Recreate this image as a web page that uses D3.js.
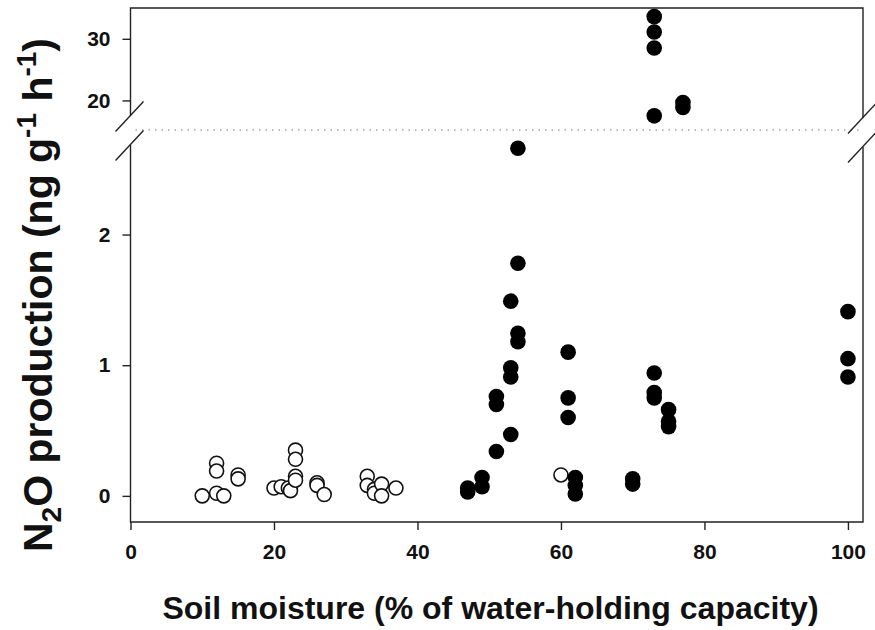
<!DOCTYPE html>
<html>
<head>
<meta charset="utf-8">
<script src="https://cdn.jsdelivr.net/npm/d3@7"></script>
<style>
    body { margin: 0; background: #fff; }
    text { font-family: "Liberation Sans", Arial, sans-serif; font-weight: bold; fill: #111; }
</style>
</head>
<body>
<svg id="chart" width="875" height="630"></svg>
<script>
// open circles (dry soils)
const dryMoisture = [10, 12, 12, 12, 13, 15, 15, 20, 21, 22, 22.3, 23, 23, 23, 23, 26, 26, 27, 33, 33, 34, 34, 35, 35, 37, 60];
const dryN2O      = [0.0, 0.25, 0.19, 0.02, 0.0, 0.16, 0.13, 0.06, 0.07, 0.06, 0.04, 0.35, 0.28, 0.15, 0.12, 0.10, 0.08, 0.01, 0.15, 0.08, 0.05, 0.02, 0.09, 0.0, 0.06, 0.16];

// filled circles (wet soils)
const wetMoisture = [47, 47, 49, 49, 51, 51, 51, 53, 53, 53, 53, 54, 54, 54, 54, 61, 61, 61, 62, 62, 62, 70, 70, 73, 73, 73, 75, 75, 75, 100, 100, 100, 73, 73, 73, 73, 77, 77];
const wetN2O      = [0.06, 0.03, 0.14, 0.07, 0.76, 0.70, 0.34, 1.49, 0.98, 0.91, 0.47, 2.66, 1.78, 1.245, 1.18, 1.10, 0.75, 0.60, 0.14, 0.08, 0.015, 0.13, 0.09, 0.94, 0.79, 0.75, 0.66, 0.57, 0.53, 1.41, 1.05, 0.91, 33.6, 31.1, 28.5, 17.5, 19.65, 18.85];

const xTicks = [0, 20, 40, 60, 80, 100];
const lowTicks = [0, 1, 2];
const highTicks = [20, 30];

const svg = d3.select('#chart');

const plotLeft = 130.5, plotRight = 863, plotTop = 8, plotBottom = 522, breakY = 130;

const x = d3.scaleLinear().domain([0, 102.1]).range([plotLeft, plotRight]);
const yLow = d3.scaleLinear().domain([-0.2, 2.8]).range([plotBottom, breakY]);
const yHigh = d3.scaleLinear().domain([15.2, 35]).range([breakY, plotTop]);

function yPos(v) {
    return v > 2.8 ? yHigh(v) : yLow(v);
}

// dotted break line
svg.append('line')
    .attr('x1', plotLeft + 5).attr('x2', plotRight)
    .attr('y1', breakY).attr('y2', breakY)
    .attr('stroke', '#777')
    .attr('stroke-width', 1.2)
    .attr('stroke-dasharray', '1.5,5');

const frame = svg.append('g')
    .attr('stroke', '#222')
    .attr('stroke-width', 1.4)
    .attr('fill', 'none');

// frame pieces, broken at the slashes
frame.append('path').attr('d', `M${plotLeft},116 V${plotTop} H${plotRight} V118`);
frame.append('path').attr('d', `M${plotLeft},145 V${plotBottom} H${plotRight} V147`);

// break slashes
[[plotLeft, 116], [plotLeft, 145], [plotRight, 118], [plotRight, 147]].forEach(function (p) {
    frame.append('line')
        .attr('x1', p[0] - 15).attr('y1', p[1] + 15.5)
        .attr('x2', p[0] + 13).attr('y2', p[1] - 14.5);
});

// axes
const fmt = d3.format('d');

const xAxis = svg.append('g')
    .attr('transform', `translate(0,${plotBottom})`)
    .call(d3.axisBottom(x).tickValues(xTicks).tickFormat(fmt).tickSize(8).tickPadding(14));

const yAxisLow = svg.append('g')
    .attr('transform', `translate(${plotLeft},0)`)
    .call(d3.axisLeft(yLow).tickValues(lowTicks).tickFormat(fmt).tickSize(8).tickPadding(12));

const yAxisHigh = svg.append('g')
    .attr('transform', `translate(${plotLeft},0)`)
    .call(d3.axisLeft(yHigh).tickValues(highTicks).tickFormat(fmt).tickSize(8).tickPadding(12));

[xAxis, yAxisLow, yAxisHigh].forEach(function (a) {
    a.select('.domain').remove();
    a.selectAll('line').attr('stroke', '#222').attr('stroke-width', 1.4);
    a.selectAll('text')
        .attr('font-family', '"Liberation Sans", Arial, sans-serif')
        .attr('font-weight', 'bold')
        .attr('font-size', 21)
        .attr('fill', '#111');
});

// points
svg.append('g').selectAll('circle')
    .data(d3.range(dryMoisture.length))
    .join('circle')
    .attr('cx', i => x(dryMoisture[i]))
    .attr('cy', i => yPos(dryN2O[i]))
    .attr('r', 7)
    .attr('fill', '#fff')
    .attr('stroke', '#111')
    .attr('stroke-width', 1.6);

svg.append('g').selectAll('circle')
    .data(d3.range(wetMoisture.length))
    .join('circle')
    .attr('cx', i => x(wetMoisture[i]))
    .attr('cy', i => yPos(wetN2O[i]))
    .attr('r', 7.8)
    .attr('fill', '#000');

// axis titles
svg.append('text')
    .attr('x', (163 + 818) / 2)
    .attr('y', 619)
    .attr('text-anchor', 'middle')
    .attr('font-size', 32)
    .text('Soil moisture (% of water-holding capacity)');

const yTitle = svg.append('text')
    .attr('transform', 'translate(52,295) rotate(-90)')
    .attr('text-anchor', 'middle')
    .attr('font-size', 41);

yTitle.append('tspan').text('N');
yTitle.append('tspan').attr('font-size', 28).attr('dy', 9).text('2');
yTitle.append('tspan').attr('dy', -9).text('O production (ng g');
yTitle.append('tspan').attr('font-size', 28).attr('dy', -16).text('-1');
yTitle.append('tspan').attr('dy', 16).text(' h');
yTitle.append('tspan').attr('font-size', 28).attr('dy', -16).text('-1');
yTitle.append('tspan').attr('dy', 16).text(')');
</script>
</body>
</html>
